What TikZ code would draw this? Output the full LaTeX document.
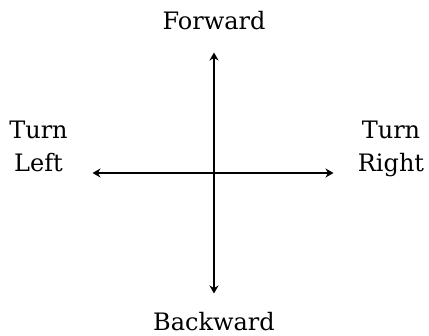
\documentclass[tikz,border=0pt]{standalone}
\usepackage{fontspec}
\setmainfont{DejaVu Serif}
\usetikzlibrary{arrows.meta}
\begin{document}
\begin{tikzpicture}[x=1pt,y=-1pt,
  lbl/.style={font=\fontsize{24}{33}\selectfont, align=center, inner sep=0pt},
  axis/.style={line width=1.8pt, -{Stealth[length=8pt,width=9pt]}}]
\useasboundingbox (0,0) rectangle (429,336);
\coordinate (c) at (214,173);
\coordinate (top) at (214,52.5);
\coordinate (bot) at (214,293.5);
\coordinate (lft) at (92.5,173);
\coordinate (rgt) at (333.5,173);
\draw[axis] (c) -- (top);
\draw[axis] (c) -- (bot);
\draw[axis] (c) -- (lft);
\draw[axis] (c) -- (rgt);
\node[lbl, anchor=base] (fw) at (214,29.5) {Forward};
\node[lbl, anchor=base] (bw) at (214,331) {Backward};
\node[lbl, anchor=base] (tl) at (38.5,172) {Turn\\Left};
\node[lbl, anchor=base] (tr) at (391,172) {Turn\\Right};
\end{tikzpicture}
\end{document}
